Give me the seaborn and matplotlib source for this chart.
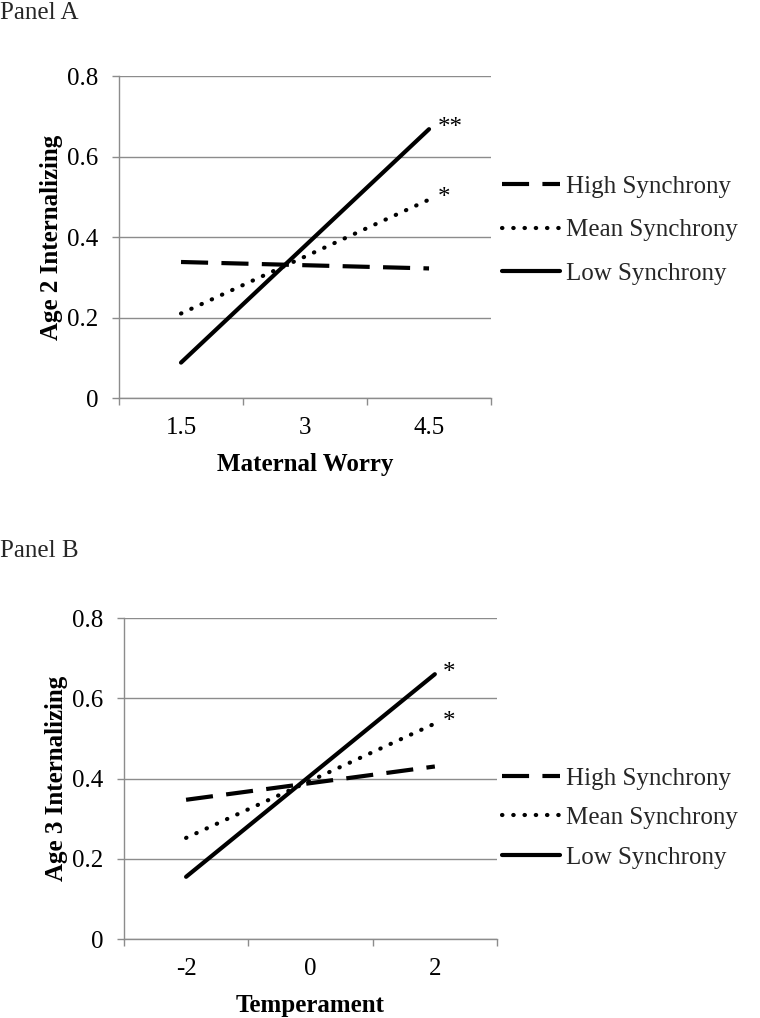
import numpy as np
import pandas as pd
import matplotlib
matplotlib.use("Agg")
import matplotlib.pyplot as plt
import seaborn as sns

# ---- data ----
series_names = ["High Synchrony", "Mean Synchrony", "Low Synchrony"]

a_x = [1.5, 4.5]
a_high = [0.338, 0.322]
a_mean = [0.210, 0.493]
a_low = [0.088, 0.668]
a_ticks = [1.5, 3, 4.5]
a_ticklabels = ["1.5", "3", "4.5"]

b_x = [-2, 2]
b_high = [0.347, 0.430]
b_mean = [0.252, 0.537]
b_low = [0.155, 0.660]
b_ticks = [-2, 0, 2]
b_ticklabels = ["-2", "0", "2"]

y_ticks = [0, 0.2, 0.4, 0.6, 0.8]
y_ticklabels = ["0", "0.2", "0.4", "0.6", "0.8"]

sns.set_theme(style="white")
plt.rcParams["font.family"] = ["Liberation Serif", "DejaVu Serif"]

GRID = "#8c8c8c"
FS = 18
styles = {
    "High Synchrony": dict(dashes=(6.5, 3.2), dash_capstyle="butt"),
    "Mean Synchrony": dict(dashes=(0.1, 2.6), dash_capstyle="round"),
    "Low Synchrony": dict(),
}

fig = plt.figure(figsize=(7.6, 10.18), dpi=100)


def panel(rect, xs, high, mean, low, ticks, ticklabels, xlim, minor, xlabel, ylabel,
          stars, leg_y, leg_spacing):
    ax = fig.add_axes(rect)
    vals = {"High Synchrony": high, "Mean Synchrony": mean, "Low Synchrony": low}
    for name in series_names:
        df = pd.DataFrame({"x": xs, "y": vals[name]})
        sns.lineplot(data=df, x="x", y="y", ax=ax, color="black", lw=3.0,
                     label=name, **styles[name])
    ax.set_xlim(*xlim)
    ax.set_ylim(0, 0.8)
    ax.set_yticks(y_ticks)
    ax.set_yticklabels(y_ticklabels)
    ax.set_xticks(ticks)
    ax.set_xticklabels(ticklabels)
    ax.set_xticks(minor, minor=True)
    ax.tick_params(axis="x", which="major", length=0, pad=14, labelsize=FS, colors="black")
    ax.tick_params(axis="x", which="minor", length=5, width=1, color=GRID, direction="out", bottom=True)
    ax.tick_params(axis="y", length=5, width=1, color=GRID, pad=10, labelsize=FS,
                   labelcolor="black", left=True)
    ax.grid(axis="y", color=GRID, lw=1)
    ax.grid(axis="x", visible=False)
    for s in ["top", "right"]:
        ax.spines[s].set_visible(False)
    for s in ["left", "bottom"]:
        ax.spines[s].set_color(GRID)
        ax.spines[s].set_linewidth(1)
    ax.set_axisbelow(True)
    ax.set_xlabel(xlabel, fontsize=FS, fontweight="bold", labelpad=10, color="black")
    ax.set_ylabel(ylabel, fontsize=FS, fontweight="bold", labelpad=3, color="black")
    for (sx, sy, txt) in stars:
        ax.annotate(txt, (sx, sy), xytext=(6, 1), textcoords="offset points",
                    ha="left", va="center", fontsize=FS, color="black")
    h, l = ax.get_legend_handles_labels()
    ax.get_legend().remove()
    fig.legend(h, l, loc="center left", bbox_to_anchor=(0.661, leg_y), frameon=False,
               fontsize=FS, handlelength=2.3, handletextpad=0.25,
               labelspacing=leg_spacing, borderpad=0, borderaxespad=0)
    return ax


panel([0.1566, 0.609, 0.4895, 0.3163], a_x, a_high, a_mean, a_low, a_ticks, a_ticklabels,
      (0.75, 5.25), [0.75, 2.25, 3.75, 5.25], "Maternal Worry", "Age 2 Internalizing",
      [(a_x[1], a_low[1], "**"), (a_x[1], a_mean[1], "*")], 0.774, 0.84)

panel([0.163, 0.0776, 0.491, 0.3153], b_x, b_high, b_mean, b_low, b_ticks, b_ticklabels,
      (-3, 3), [-3, -1, 1, 3], "Temperament", "Age 3 Internalizing",
      [(b_x[1], b_low[1], "*"), (b_x[1], b_mean[1], "*")], 0.1965, 0.68)

fig.text(0.0, 1 - 13 / 1018, "Panel A", fontsize=FS, va="center", ha="left")
fig.text(0.0, 1 - 551 / 1018, "Panel B", fontsize=FS, va="center", ha="left")

fig.savefig("out.png", dpi=100)
